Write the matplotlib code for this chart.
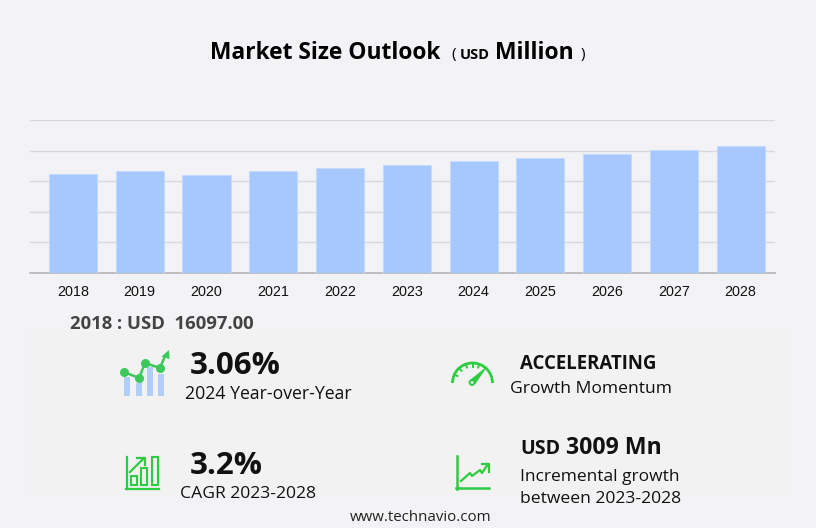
import numpy as np
import matplotlib
matplotlib.use("Agg")
import matplotlib.pyplot as plt
from matplotlib.patches import Rectangle, Circle, Arc, Polygon

years = ["2018", "2019", "2020", "2021", "2022", "2023", "2024", "2025", "2026", "2027", "2028"]
market_size = [16097, 16600, 16030, 16600, 17150, 17700, 18240, 18850, 19450, 20100, 20710]
y_ticks = [0, 5000, 10000, 15000, 20000, 25000]

W, H = 816, 528
BG = "#f3f3f6"
GREEN = "#2ecc40"
plt.rcParams["font.family"] = ["Open Sans", "DejaVu Sans"]

fig = plt.figure(figsize=(W / 100, H / 100), dpi=100, facecolor=BG)

# full figure layer in pixel coords, for the text and icons
bg = fig.add_axes([0, 0, 1, 1])
bg.set_xlim(0, W)
bg.set_ylim(H, 0)
bg.axis("off")
bg.add_patch(Rectangle((30, 331), 760, 166, color="#f2f2f3", lw=0))

# bar chart
ax = fig.add_axes([30 / W, 1 - 273 / H, 745 / W, 153 / H])
ax.patch.set_alpha(0)
x = np.arange(len(years))
ax.bar(x, market_size, width=0.72, color="#a6c8ff", edgecolor="#c4daff", linewidth=0.8, zorder=3)
ax.set_xlim(-0.643, 10.515)
ax.set_ylim(0, 25000)
ax.set_xticks(x, years)
for lab in ax.get_xticklabels():
    lab.set_fontfamily("Liberation Sans")
    lab.set_fontsize(10.4)
    lab.set_color("#111111")
ax.set_yticks(y_ticks)
ax.tick_params(axis="y", left=False, labelleft=False)
ax.tick_params(axis="x", bottom=False, pad=5)
ax.grid(axis="y", color="#d9d9dc", linewidth=1)
ax.set_axisbelow(True)
for s in ["top", "left", "right"]:
    ax.spines[s].set_visible(False)
ax.spines["bottom"].set_color("#b5b5b5")
ax.spines["bottom"].set_linewidth(1.2)


def txt(px, py, s, size, weight="normal", color="#111111", ha="left"):
    bg.text(px, py, s, fontsize=size, fontweight=weight, color=color, ha=ha, va="center")


# title
txt(210, 53, "Market Size Outlook", 16.4, "bold", "#000000")
txt(451, 54.5, "(", 11, "normal", "#000000")
txt(460, 55, "USD", 10.5, "bold", "#000000")
txt(495, 53, "Million", 16.5, "bold", "#000000")
txt(581, 54.5, ")", 11, "normal", "#000000")

txt(70, 324, "2018 : USD  16097.00", 13.3, "bold", "#444444")

# kpi text
txt(190, 365.5, "3.06%", 22.5, "bold")
txt(185, 394, "2024 Year-over-Year", 12.7)
txt(190, 465.5, "3.2%", 22.5, "bold")
txt(180, 494, "CAGR 2023-2028", 12.6)
txt(520, 364, "ACCELERATING", 13.4, "bold")
txt(510, 389, "Growth Momentum", 12.6)
txt(520, 449, "USD", 14, "bold")
txt(566, 448, "3009 Mn", 16.7, "bold")
txt(520, 477, "Incremental growth", 12.5)
txt(520, 499, "between 2023-2028", 12.6)
txt(350, 517.5, "www.technavio.com", 10.8, "normal", "#222222")

# icon: bars with trend line
for bx, by in zip([124, 136, 147, 158], [377, 383, 367, 374]):
    bg.add_patch(Rectangle((bx, by), 6, 396 - by, color="#b0cff8", lw=0))
lx = [124, 139, 145, 160, 165]
ly = [372, 378, 363, 368, 356]
bg.plot(lx, ly, color="#3cc85a", lw=1.8)
bg.plot(lx[:4], ly[:4], "o", color="#3cc85a", ms=6.5, mew=0)
bg.add_patch(Polygon([[161.5, 356.5], [169, 350], [169.5, 359]], color="#3cc85a", lw=0))

# icon: cagr bars
bg.plot([126.5, 126.5], [457, 489], color=GREEN, lw=1.6)
bg.plot([126, 159], [488.5, 488.5], color=GREEN, lw=1.6)
for bx, by, bh in [(131, 476, 8.5), (141, 468, 16.5), (152, 457, 27.5)]:
    bg.add_patch(Rectangle((bx, by), 6, bh, fill=False, ec=GREEN, lw=1.5))
bg.plot([130, 144], [472, 458], color=GREEN, lw=1.6)
bg.plot([137, 144.5, 144.5], [458, 458, 465], color=GREEN, lw=1.6)

# icon: gauge
bg.add_patch(Arc((472.5, 383), 40, 40, theta1=180, theta2=360, color=GREEN, lw=2))
for a in np.deg2rad([205, 228, 250, 270, 290]):
    bg.plot([472.5 + 20 * np.cos(a), 472.5 + 16.5 * np.cos(a)],
            [383 + 20 * np.sin(a), 383 + 16.5 * np.sin(a)], color=GREEN, lw=1.4)
bg.add_patch(Polygon([[470, 380], [488, 365.5], [475, 384.5]], color=GREEN, lw=0))
bg.add_patch(Circle((472, 382.5), 2.4, fc=BG, ec=GREEN, lw=1.4, zorder=5))

# icon: incremental growth line
bg.plot([456.5, 456.5], [456, 488.5], color=GREEN, lw=1.8)
bg.plot([456, 489], [488, 488], color=GREEN, lw=1.8)
bg.plot([461, 470, 472, 480, 482, 488], [481, 473, 476, 470, 473, 464], color=GREEN, lw=1.6)
bg.plot([482, 488.5, 488.5], [464, 464, 472], color=GREEN, lw=1.6)

fig.savefig("out.png", dpi=100, facecolor=BG)
